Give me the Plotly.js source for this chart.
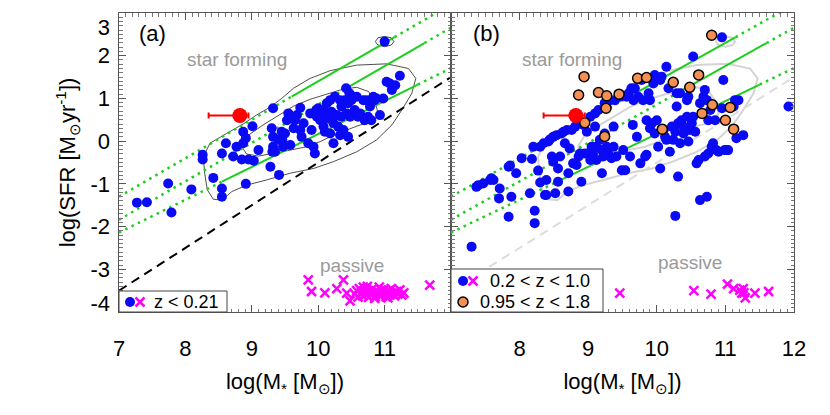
<!DOCTYPE html>
<html><head><meta charset="utf-8">
<script src="https://cdn.plot.ly/plotly-3.0.1.min.js"></script>
<style>html,body{margin:0;padding:0;background:#fff}</style>
</head><body><div id="chart" style="width:830px;height:415px"></div>
<script>
// ---------- data ----------
// panel (a): z < 0.21 star-forming galaxies
const massA = [7.27,7.42,7.74,7.79,8.09,8.26,8.26,8.42,8.55,8.55,8.55,8.61,8.72,8.77,8.85,8.91,8.87,8.95,9.01,9.03,9.10,8.87,8.91,9.32,9.28,9.41,9.31,9.30,9.32,9.32,9.35,9.40,9.45,9.46,9.47,9.50,9.53,9.55,9.58,9.60,9.63,9.65,9.68,9.73,9.73,9.75,9.78,9.85,9.88,9.90,9.93,9.95,9.97,9.98,10.00,10.03,10.05,10.08,10.08,10.10,10.13,10.15,10.18,10.18,10.20,10.23,10.23,10.25,10.28,10.30,10.33,10.33,10.35,10.35,10.38,10.40,10.42,10.43,10.45,10.45,10.47,10.48,10.50,10.53,10.55,10.58,10.60,10.63,10.68,10.70,10.73,10.75,10.78,10.80,10.83,10.85,10.88,10.93,10.98,11.03,11.08,11.11,11.16,11.23,11.00];
const sfrA  = [-1.44,-1.43,-0.99,-1.67,-1.13,-0.32,-0.43,-0.86,-1.11,-1.30,-0.29,-0.05,-0.36,-0.13,-0.43,-1.00,0.22,-0.43,0.35,-0.46,-0.21,-0.05,0.07,0.77,-0.60,-0.79,-0.25,0.30,0.10,-0.13,-0.25,0.03,0.22,0.03,-0.13,0.18,0.49,0.65,-0.09,0.57,0.30,0.49,0.61,0.78,0.26,0.10,0.42,-0.05,0.65,0.26,-0.13,-0.29,0.73,0.57,0.77,0.49,0.61,0.34,0.73,0.22,0.89,0.53,0.96,0.18,0.69,0.42,-0.05,1.04,0.61,0.34,0.96,0.14,0.81,0.57,0.26,0.96,1.24,0.65,0.10,0.89,1.12,0.57,0.96,1.04,0.73,1.04,0.57,0.65,0.96,0.49,0.96,0.57,0.81,0.49,1.04,0.96,1.00,0.61,1.00,1.39,1.35,1.20,1.31,1.53,2.33];
// panel (a): passive galaxies (crosses)
const passMassA = [9.85,9.90,10.10,10.28,10.38,10.43,10.48,11.68,10.55,10.58,10.60,10.62,10.65,10.67,10.70,10.72,10.74,10.76,10.78,10.80,10.82,10.84,10.86,10.88,10.90,10.92,10.94,10.96,10.98,11.00,11.02,11.04,11.06,11.08,11.10,11.12,11.15,11.18,11.20,11.23,11.26,11.29,10.68,10.85,10.95,11.05];
const passSfrA  = [-3.25,-3.52,-3.55,-3.45,-3.25,-3.56,-3.74,-3.37,-3.58,-3.50,-3.65,-3.45,-3.55,-3.62,-3.48,-3.58,-3.40,-3.66,-3.52,-3.60,-3.45,-3.56,-3.63,-3.50,-3.58,-3.42,-3.62,-3.53,-3.57,-3.47,-3.64,-3.55,-3.50,-3.60,-3.45,-3.56,-3.62,-3.52,-3.58,-3.48,-3.60,-3.55,-3.42,-3.68,-3.48,-3.67];
// panel (b): 0.2 < z < 1.0
const massB = [7.30,7.37,7.40,7.47,7.57,7.59,7.62,7.71,7.70,7.84,7.84,7.86,7.88,7.95,8.03,8.15,8.18,8.20,8.22,8.22,8.27,8.30,8.30,8.35,8.37,8.39,8.39,8.42,8.44,8.47,8.49,8.49,8.52,8.54,8.56,8.56,8.59,8.61,8.64,8.66,8.69,8.71,8.71,8.73,8.76,8.78,8.81,8.83,8.86,8.88,8.88,8.90,8.93,8.95,8.98,9.00,9.03,9.03,9.05,9.07,9.10,9.10,9.12,9.12,9.15,9.17,9.20,9.20,9.22,9.24,9.24,9.27,9.29,9.32,9.34,9.37,9.37,9.39,9.41,9.46,9.49,9.51,9.54,9.56,9.59,9.61,9.63,9.65,9.66,9.68,9.71,9.73,9.76,9.78,9.80,9.83,9.85,9.85,9.88,9.90,9.90,9.93,9.95,9.97,9.97,10.00,10.02,10.05,10.05,10.07,10.10,10.12,10.14,10.14,10.17,10.19,10.22,10.24,10.27,10.29,10.29,10.31,10.31,10.34,10.34,10.36,10.39,10.39,10.44,10.44,10.46,10.46,10.48,10.51,10.53,10.53,10.56,10.58,10.61,10.63,10.63,10.68,10.70,10.70,10.73,10.73,10.75,10.75,10.78,10.80,10.82,10.85,10.87,10.90,10.95,10.97,10.99,11.02,11.04,11.12,11.14,11.16,11.19,11.26,10.95,11.92,10.27];
const sfrB  = [-2.47,-1.07,-1.03,-0.99,-0.91,-0.87,-0.91,-1.11,-1.34,-1.77,-0.60,-0.57,-1.30,-0.75,-0.40,-1.22,-0.42,-0.13,-1.63,-1.92,-0.69,-0.13,-0.97,-0.05,-1.26,-0.91,-1.26,-0.01,0.04,-0.36,0.10,-0.48,-1.22,0.14,-0.64,-0.95,-0.36,0.18,0.22,-0.05,0.26,-1.18,-0.75,-0.17,0.26,-0.52,0.34,-0.56,-0.36,-0.29,0.42,-0.95,0.38,-0.29,0.22,-0.29,-0.44,0.57,-0.13,-0.29,0.34,0.65,-0.13,-0.44,0.73,0.03,-0.75,-0.21,-0.36,0.89,0.18,-0.13,-0.29,0.96,-0.40,0.34,-0.13,0.96,-0.36,1.04,-0.68,-0.21,-0.68,1.04,1.12,-0.36,1.24,0.38,0.96,1.24,0.10,1.04,-0.52,1.43,0.96,-0.36,-0.32,0.49,1.12,0.96,0.30,0.42,1.35,1.55,0.18,0.49,-0.13,-0.64,1.43,1.51,0.26,0.10,1.74,0.03,1.24,-0.25,0.34,0.03,0.22,1.12,0.81,-0.83,0.42,1.12,-0.05,0.49,0.34,0.18,0.96,0.57,-0.01,1.04,0.26,0.42,1.98,0.57,0.22,-0.52,-0.44,0.89,-1.38,1.04,1.20,-0.36,0.96,-1.30,0.49,-0.29,0.73,-0.13,-0.05,0.49,-0.21,-0.25,0.77,1.43,-0.21,-0.21,-0.21,0.81,0.96,0.07,0.96,0.14,2.43,0.81,-1.75];
// panel (b): 0.95 < z < 1.8
const hiMassB = [10.80,8.94,8.86,9.15,9.27,9.45,9.72,9.85,10.24,10.61,10.48,9.26,8.95,9.24,10.08,10.81,11.07,10.66,11.00,11.12];
const hiSfrB  = [2.48,1.51,1.08,1.14,1.06,1.10,1.47,1.49,1.38,1.55,1.26,0.77,0.43,0.11,0.28,0.85,0.79,0.65,0.49,0.28];
const passMassB = [9.46,10.54,10.79,11.03,11.12,11.21,11.24,11.27,11.29,11.43,11.63,11.26];
const passSfrB  = [-3.56,-3.50,-3.58,-3.35,-3.45,-3.49,-3.56,-3.55,-3.67,-3.56,-3.52,-3.45];
// highlighted object (red) with asymmetric mass error
const redMass = [8.82], redSfr = [0.60], redErrMinus = [0.47], redErrPlus = [0.13];
// density contours of the z < 0.21 sample
const outerM = [8.27,8.37,8.62,8.87,9.07,9.27,9.45,9.63,9.88,10.18,10.58,11.03,11.36,11.47,11.41,11.26,11.11,10.88,10.58,10.23,9.93,9.58,9.22,8.92,8.70,8.55,8.42,8.33,8.29,8.27];
const outerS = [-0.36,-0.05,0.18,0.40,0.61,0.79,1.00,1.24,1.47,1.65,1.78,1.81,1.70,1.47,1.12,0.73,0.38,0.03,-0.25,-0.48,-0.64,-0.75,-0.91,-1.03,-1.18,-1.38,-1.36,-1.14,-0.75,-0.36];
const innerM = [8.85,8.95,9.17,9.40,9.63,9.88,10.13,10.38,10.58,10.76,10.86,10.90,10.83,10.63,10.43,10.23,10.03,9.83,9.58,9.32,9.10,8.92,8.85];
const innerS = [-0.13,0.14,0.38,0.61,0.82,0.98,1.10,1.22,1.26,1.16,0.92,0.65,0.43,0.38,0.26,0.14,-0.01,-0.13,-0.21,-0.29,-0.35,-0.30,-0.13];
const blobM = [10.86,10.90,11.00,11.10,11.14,11.10,11.00,10.90,10.86];
const blobS = [2.33,2.42,2.45,2.42,2.33,2.25,2.21,2.25,2.33];
// main-sequence relations: solid over fitted range, dotted extrapolation
const lowSolidM = [8.55,11.5],  lowSolidS = [-0.95,1.325];
const lowDotM = [7,8.55,null,11.5,12], lowDotS = [-2.14,-0.95,null,1.325,1.71];
const midSolidM = [10.4,11.6],  midSolidS = [1.217,2.297];
const midDotM = [7,10.4,null,11.6,12], midDotS = [-1.84,1.217,null,2.297,2.657];
const upSolidM = [9.6,11.15],   upSolidS = [1.041,2.436];
const upDotM = [7,9.6,null,11.15,12], upDotS = [-1.30,1.041,null,2.436,3.201];
// passive / star-forming division
const divM = [7,12], divS = [-3.5,1.5];
// tick labels
const yTickText = ['3','2','1','0','-1','-2','-3','-4'];
const yTickVals = [2.672,2,1,0,-1,-2,-3,-3.789];
const xTickValsA = [7,8,9,10,11], xTickTextA = ['7','8','9','10','11'];
const xTickValsB = [8,9,10,11,12], xTickTextB = ['8','9','10','11','12'];

// ---------- styling ----------
const BLUE = '#0a0af5', MAG = '#ff00ff', GREEN = '#1ccf1c', ORANGE = '#f58f52';
const FONT = 'Liberation Sans, Arial, Helvetica, sans-serif';

function panel(xa, ya, contourColor, contourWidth, divColor) {
  const t = [];
  t.push({x: outerM, y: outerS, xaxis: xa, yaxis: ya, mode: 'lines', line: {color: contourColor, width: contourWidth}});
  t.push({x: innerM, y: innerS, xaxis: xa, yaxis: ya, mode: 'lines', line: {color: contourColor, width: contourWidth}});
  t.push({x: blobM, y: blobS, xaxis: xa, yaxis: ya, mode: 'lines', line: {color: contourColor, width: contourWidth}});
  t.push({x: divM, y: divS, xaxis: xa, yaxis: ya, mode: 'lines', line: {color: divColor, width: 2, dash: '9px,6px'}});
  [[lowDotM, lowDotS], [midDotM, midDotS], [upDotM, upDotS]].forEach(p => t.push({x: p[0], y: p[1], xaxis: xa, yaxis: ya, mode: 'lines', line: {color: GREEN, width: 2.5, dash: '2.5px,4.5px'}}));
  [[lowSolidM, lowSolidS], [midSolidM, midSolidS], [upSolidM, upSolidS]].forEach(p => t.push({x: p[0], y: p[1], xaxis: xa, yaxis: ya, mode: 'lines', line: {color: GREEN, width: 2}}));
  return t;
}

const traces = [];
traces.push(...panel('x', 'y', '#222', 0.8, '#000'));
traces.push({x: massA, y: sfrA, xaxis: 'x', yaxis: 'y', mode: 'markers', marker: {color: BLUE, size: 10}});
traces.push({x: passMassA, y: passSfrA, xaxis: 'x', yaxis: 'y', mode: 'markers', marker: {symbol: 'x-thin', color: MAG, size: 9, line: {color: MAG, width: 2.5}}});
traces.push({x: redMass, y: redSfr, xaxis: 'x', yaxis: 'y', mode: 'markers', marker: {color: '#ff0000', size: 15},
  error_x: {type: 'data', symmetric: false, array: redErrPlus, arrayminus: redErrMinus, color: '#ff0000', thickness: 2, width: 3}});

traces.push(...panel('x2', 'y2', '#d4d4d4', 2, '#dcdcdc'));
traces.push({x: massB, y: sfrB, xaxis: 'x2', yaxis: 'y2', mode: 'markers', marker: {color: BLUE, size: 10}});
traces.push({x: hiMassB, y: hiSfrB, xaxis: 'x2', yaxis: 'y2', mode: 'markers', marker: {color: ORANGE, size: 10, line: {color: '#000', width: 1.5}}});
traces.push({x: passMassB, y: passSfrB, xaxis: 'x2', yaxis: 'y2', mode: 'markers', marker: {symbol: 'x-thin', color: MAG, size: 9, line: {color: MAG, width: 2.5}}});
traces.push({x: redMass, y: redSfr, xaxis: 'x2', yaxis: 'y2', mode: 'markers', marker: {color: '#ff0000', size: 15},
  error_x: {type: 'data', symmetric: false, array: redErrPlus, arrayminus: redErrMinus, color: '#ff0000', thickness: 2, width: 3}});
// carriers for the label-only axes
traces.push({x: [null], y: [null], xaxis: 'x3', yaxis: 'y', mode: 'markers'});
traces.push({x: [null], y: [null], xaxis: 'x4', yaxis: 'y2', mode: 'markers'});
traces.push({x: [null], y: [null], xaxis: 'x', yaxis: 'y3', mode: 'markers'});

const frameAxis = {
  showline: true, linecolor: '#555', linewidth: 1, mirror: 'ticks', ticks: 'inside', ticklen: 7, tickwidth: 1, tickcolor: '#555',
  showticklabels: false, showgrid: false, zeroline: false, fixedrange: true,
  minor: {ticks: 'inside', ticklen: 3.5, tickwidth: 1, tickcolor: '#777', dtick: 0.1, showgrid: false}
};
const labelAxis = {showline: false, ticks: '', showgrid: false, zeroline: false, fixedrange: true,
  tickfont: {family: FONT, size: 22, color: '#000'}, title: {font: {family: FONT, size: 22, color: '#000'}}};

const dA = [19/730, 351/730], dB = [351/730, 694/730];
const layout = {
  width: 830, height: 415, margin: {l: 100, r: 0, t: 13, b: 103},
  paper_bgcolor: '#fff', plot_bgcolor: 'rgba(0,0,0,0)', showlegend: false, hovermode: false,
  font: {family: FONT},
  xaxis: Object.assign({}, frameAxis, {domain: dA, range: [7, 12], dtick: 1, tick0: 7, anchor: 'y'}),
  yaxis: Object.assign({}, frameAxis, {domain: [0, 1], range: [-4, 3], dtick: 1, tick0: 0, anchor: 'x'}),
  xaxis2: Object.assign({}, frameAxis, {domain: dB, range: [7, 12], dtick: 1, tick0: 7, anchor: 'y2'}),
  yaxis2: Object.assign({}, frameAxis, {domain: [0, 1], range: [-4, 3], dtick: 1, tick0: 0, anchor: 'x2'}),
  xaxis3: Object.assign({}, labelAxis, {overlaying: 'x', anchor: 'y', side: 'bottom', range: [7, 12],
    tickmode: 'array', tickvals: xTickValsA, ticktext: xTickTextA, ticklabelstandoff: 21,
    title: Object.assign({}, labelAxis.title, {text: 'log(M<sub>*</sub> [M<sub>⊙</sub>])', standoff: 13})}),
  xaxis4: Object.assign({}, labelAxis, {overlaying: 'x2', anchor: 'y2', side: 'bottom', range: [7, 12],
    tickmode: 'array', tickvals: xTickValsB, ticktext: xTickTextB, ticklabelstandoff: 21,
    title: Object.assign({}, labelAxis.title, {text: 'log(M<sub>*</sub> [M<sub>⊙</sub>])', standoff: 13})}),
  yaxis3: Object.assign({}, labelAxis, {overlaying: 'y', anchor: 'x', side: 'left', range: [-4, 3],
    tickmode: 'array', tickvals: yTickVals, ticktext: yTickText, ticklabelstandoff: 8,
    title: Object.assign({}, labelAxis.title, {text: 'log(SFR [M<sub>⊙</sub>yr<sup>-1</sup>])', standoff: 8})}),
  shapes: [
    {type: 'rect', xref: 'paper', yref: 'paper', x0: 19/730, x1: 127/730, y0: 0, y1: 21/299, line: {color: '#444', width: 1}, fillcolor: '#fff', layer: 'above'},
    {type: 'rect', xref: 'paper', yref: 'paper', x0: 351/730, x1: 503/730, y0: 0, y1: 43/299, line: {color: '#444', width: 1}, fillcolor: '#fff', layer: 'above'},
    // legend glyphs
    {type: 'circle', xref: 'paper', yref: 'paper', xsizemode: 'pixel', ysizemode: 'pixel', xanchor: 30/730, yanchor: 10/299, x0: -5, x1: 5, y0: -5, y1: 5, fillcolor: BLUE, line: {width: 0}, layer: 'above'},
    {type: 'line', xref: 'paper', yref: 'paper', xsizemode: 'pixel', ysizemode: 'pixel', xanchor: 40/730, yanchor: 10/299, x0: -4.5, x1: 4.5, y0: -4.5, y1: 4.5, line: {color: MAG, width: 2.5}, layer: 'above'},
    {type: 'line', xref: 'paper', yref: 'paper', xsizemode: 'pixel', ysizemode: 'pixel', xanchor: 40/730, yanchor: 10/299, x0: -4.5, x1: 4.5, y0: 4.5, y1: -4.5, line: {color: MAG, width: 2.5}, layer: 'above'},
    {type: 'circle', xref: 'paper', yref: 'paper', xsizemode: 'pixel', ysizemode: 'pixel', xanchor: 363/730, yanchor: 31/299, x0: -5, x1: 5, y0: -5, y1: 5, fillcolor: BLUE, line: {width: 0}, layer: 'above'},
    {type: 'line', xref: 'paper', yref: 'paper', xsizemode: 'pixel', ysizemode: 'pixel', xanchor: 373/730, yanchor: 31/299, x0: -4.5, x1: 4.5, y0: -4.5, y1: 4.5, line: {color: MAG, width: 2.5}, layer: 'above'},
    {type: 'line', xref: 'paper', yref: 'paper', xsizemode: 'pixel', ysizemode: 'pixel', xanchor: 373/730, yanchor: 31/299, x0: -4.5, x1: 4.5, y0: 4.5, y1: -4.5, line: {color: MAG, width: 2.5}, layer: 'above'},
    {type: 'circle', xref: 'paper', yref: 'paper', xsizemode: 'pixel', ysizemode: 'pixel', xanchor: 363/730, yanchor: 10/299, x0: -5, x1: 5, y0: -5, y1: 5, fillcolor: ORANGE, line: {color: '#000', width: 1.5}, layer: 'above'}
  ],
  annotations: [
    {xref: 'x', yref: 'y', x: 7.51, y: 2.53, text: '(a)', showarrow: false, font: {family: FONT, size: 22, color: '#000'}},
    {xref: 'x2', yref: 'y2', x: 7.52, y: 2.53, text: '(b)', showarrow: false, font: {family: FONT, size: 22, color: '#000'}},
    {xref: 'x', yref: 'y', x: 8.78, y: 1.92, text: 'star forming', showarrow: false, font: {family: FONT, size: 19, color: '#9a9a9a'}},
    {xref: 'x2', yref: 'y2', x: 8.76, y: 1.92, text: 'star forming', showarrow: false, font: {family: FONT, size: 19, color: '#9a9a9a'}},
    {xref: 'x', yref: 'y', x: 10.51, y: -2.90, text: 'passive', showarrow: false, font: {family: FONT, size: 19, color: '#9a9a9a'}},
    {xref: 'x2', yref: 'y2', x: 10.48, y: -2.85, text: 'passive', showarrow: false, font: {family: FONT, size: 19, color: '#9a9a9a'}},
    {xref: 'paper', yref: 'paper', x: 52/730, y: 10/299, xanchor: 'left', yanchor: 'middle', text: 'z &lt; 0.21', showarrow: false, font: {family: FONT, size: 18, color: '#000'}},
    {xref: 'paper', yref: 'paper', x: 388/730, y: 31/299, xanchor: 'left', yanchor: 'middle', text: '0.2 &lt; z &lt; 1.0', showarrow: false, font: {family: FONT, size: 18, color: '#000'}},
    {xref: 'paper', yref: 'paper', x: 378/730, y: 10/299, xanchor: 'left', yanchor: 'middle', text: '0.95 &lt; z &lt; 1.8', showarrow: false, font: {family: FONT, size: 18, color: '#000'}}
  ]
};
traces.forEach(t => { t.showlegend = false; t.hoverinfo = 'skip'; });
Plotly.newPlot('chart', traces, layout, {staticPlot: true, displayModeBar: false});
</script></body></html>
